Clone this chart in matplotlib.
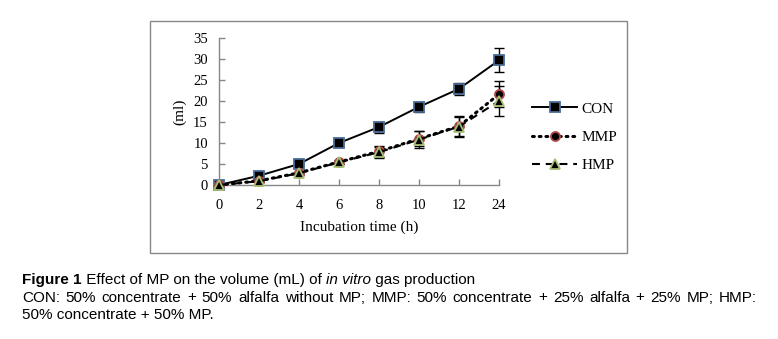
import matplotlib
matplotlib.use("Agg")
import matplotlib.pyplot as plt
from matplotlib.patches import Rectangle

# ---- data ----
time_labels = ['0', '2', '4', '6', '8', '10', '12', '24']
con = [0, 2.2, 5.0, 10.0, 13.8, 18.6, 22.9, 29.7]
con_err = [0, 0.3, 0.3, 0.4, 1.3, 1.2, 1.5, 2.9]
mmp = [0, 1.0, 2.9, 5.5, 8.0, 11.0, 14.0, 21.6]
mmp_err = [0, 0.2, 0.3, 0.4, 1.3, 1.8, 2.4, 3.1]
hmp = [0, 0.9, 2.8, 5.4, 7.8, 10.8, 13.9, 20.0]
hmp_err = [0, 0.2, 0.3, 0.4, 1.3, 2.0, 2.4, 3.6]
series_names = ['CON', 'MMP', 'HMP']
y_ticks = [0, 5, 10, 15, 20, 25, 30, 35]

W, H = 778, 339
fig = plt.figure(figsize=(W / 100, H / 100), dpi=100)
serif = ['Liberation Serif', 'DejaVu Serif']
sans = ['Liberation Sans', 'DejaVu Sans']

def fx(px):
    return px / W

def fy(py):
    return 1 - py / H

# chart border
fig.patches.append(Rectangle((fx(150), fy(253)), fx(627) - fx(150), fy(21) - fy(253),
                             transform=fig.transFigure, fill=False,
                             edgecolor='#878787', lw=1.0))

ax = fig.add_axes([fx(219), fy(185), fx(499) - fx(219), fy(38) - fy(185)])
x = list(range(len(time_labels)))

styles = [
    dict(data=con, err=con_err, ls='-', marker='s', mec='#4a6a96', ms=6.5, lw=1.4, dcs='butt'),
    dict(data=mmp, err=mmp_err, ls=(0, (0.6, 1.6)), marker='o', mec='#b04848', ms=6.5, lw=2.2, dcs='round'),
    dict(data=hmp, err=hmp_err, ls=(0, (3.8, 2.8)), marker='^', mec='#a9bf76', ms=6.5, lw=1.5, dcs='butt'),
]
handles = []
for i, (name, st) in enumerate(zip(series_names, styles)):
    cont = ax.errorbar(x, st['data'], yerr=st['err'], fmt='none', ecolor='black',
                       elinewidth=1.0, capsize=3.5, capthick=1.0, zorder=2 + i)
    for art in list(cont.lines[1]) + list(cont.lines[2]):
        art.set_clip_on(False)
    ln, = ax.plot(x, st['data'], color='black', ls=st['ls'], lw=st['lw'],
                  marker=st['marker'], markerfacecolor='black',
                  markeredgecolor=st['mec'], markeredgewidth=1.3, markersize=st['ms'],
                  dash_capstyle=st['dcs'], zorder=5 + i, label=name, clip_on=False)
    handles.append(ln)

ax.set_xlim(0, len(time_labels) - 1)
ax.set_ylim(0, 35)
ax.set_xticks(x)
ax.set_xticklabels(time_labels)
ax.set_yticks(y_ticks)
ax.set_yticklabels([str(v) for v in y_ticks])
for s in ['top', 'right']:
    ax.spines[s].set_visible(False)
for s in ['left', 'bottom']:
    ax.spines[s].set_color('#878787')
    ax.spines[s].set_linewidth(1.0)
ax.tick_params(axis='both', direction='in', length=4.5, width=1.0, color='#878787',
               labelsize=10.5, labelcolor='black')
ax.tick_params(axis='x', pad=10)
ax.tick_params(axis='y', pad=8)
for lab in ax.get_xticklabels() + ax.get_yticklabels():
    lab.set_family(serif)
ax.patch.set_alpha(0)

fig.text(fx(180), fy(111.5), '(ml)', rotation=90, ha='center', va='center',
         family=serif, fontsize=11)
fig.text(fx(359.5), fy(227), 'Incubation time (h)', ha='center', va='center',
         family=serif, fontsize=11)

leg = fig.legend(handles=handles, labels=series_names, loc='center left',
                 bbox_to_anchor=(fx(532), fy(137)), bbox_transform=fig.transFigure,
                 frameon=False, borderpad=0, borderaxespad=0, handlelength=2.95,
                 handletextpad=0.3, labelspacing=0.95,
                 prop=dict(family=serif, size=11))

# ---- caption ----
fig.canvas.draw()
renderer = fig.canvas.get_renderer()

def width_of(t):
    return t.get_window_extent(renderer=renderer).width

left = 22
line1 = [('Figure 1', 'bold', 'normal'), (' Effect of MP on the volume (mL) of ', 'normal', 'normal'),
         ('in vitro', 'normal', 'italic'), (' gas production', 'normal', 'normal')]

# choose caption size so the first line spans the same width as in the reference
probe = 10.0
tot = 0
for txt, wt, stl in line1:
    t = fig.text(0, 0, txt, family=sans, fontsize=probe, fontweight=wt, fontstyle=stl)
    tot += width_of(t)
    t.remove()
cap_size = probe * (476 - left) / tot

cx = left
for txt, wt, stl in line1:
    t = fig.text(fx(cx), fy(280), txt, ha='left', va='center', family=sans,
                 fontsize=cap_size, fontweight=wt, fontstyle=stl)
    cx += width_of(t)

line2 = 'CON: 50% concentrate + 50% alfalfa without MP; MMP: 50% concentrate + 25% alfalfa + 25% MP; HMP:'
words = line2.split(' ')
tmp = [fig.text(0, 0, w, family=sans, fontsize=cap_size) for w in words]
ws = [width_of(t) for t in tmp]
for t in tmp:
    t.remove()
sp = fig.text(0, 0, 'a a', family=sans, fontsize=cap_size)
sp2 = fig.text(0, 0, 'aa', family=sans, fontsize=cap_size)
space_w = width_of(sp) - width_of(sp2)
sp.remove()
sp2.remove()
right = 757
gap = max(space_w * 0.6, (right - left - sum(ws)) / (len(words) - 1))
cx = left
for w, wd in zip(words, ws):
    fig.text(fx(cx), fy(297.5), w, ha='left', va='center', family=sans, fontsize=cap_size)
    cx += wd + gap

fig.text(fx(left), fy(315), '50% concentrate + 50% MP.', ha='left', va='center',
         family=sans, fontsize=cap_size)

fig.savefig('out.png', dpi=100)
